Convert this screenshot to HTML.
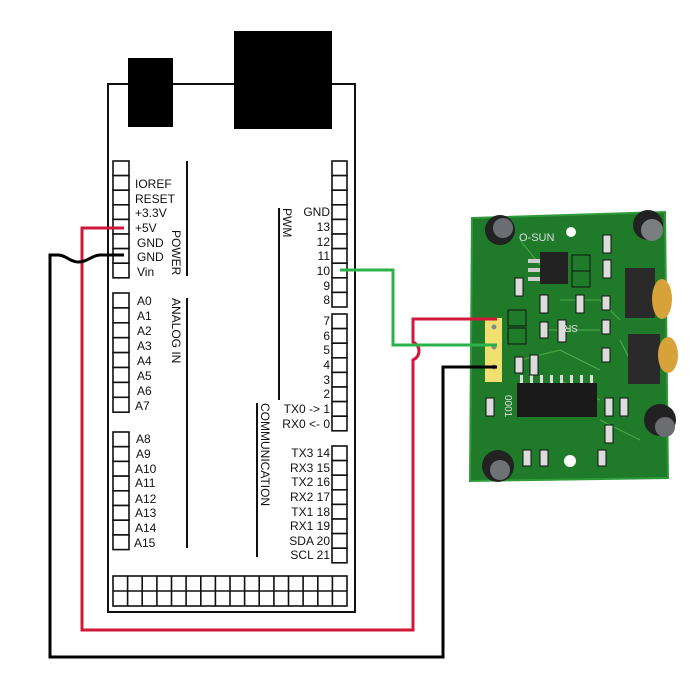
<!DOCTYPE html>
<html><head><meta charset="utf-8"><style>
html,body{margin:0;padding:0;background:#fff;}
svg{display:block;}
text{font-family:"Liberation Sans",sans-serif;font-size:12px;fill:#111;}
</style></head><body>
<svg width="700" height="687" viewBox="0 0 700 687" xmlns="http://www.w3.org/2000/svg">
<rect width="700" height="687" fill="#fff"/>
<!-- board outline -->
<path d="M108,612 V84 H355 V612 Z" fill="none" stroke="#111" stroke-width="2"/>
<rect x="128" y="58" width="45" height="69" fill="#000"/>
<rect x="234" y="31" width="98" height="98" fill="#000"/>
<g fill="#fff" stroke="#111" stroke-width="1.6">
<!-- left power header 8 -->
<rect x="113" y="161" width="16" height="14.6"/><rect x="113" y="175.6" width="16" height="14.6"/><rect x="113" y="190.2" width="16" height="14.6"/><rect x="113" y="204.8" width="16" height="14.6"/><rect x="113" y="219.4" width="16" height="14.6"/><rect x="113" y="234" width="16" height="14.6"/><rect x="113" y="248.6" width="16" height="14.6"/><rect x="113" y="263.2" width="16" height="14.6"/>
<!-- analog A0-A7 -->
<rect x="113" y="293" width="16" height="14.9"/><rect x="113" y="307.9" width="16" height="14.9"/><rect x="113" y="322.8" width="16" height="14.9"/><rect x="113" y="337.7" width="16" height="14.9"/><rect x="113" y="352.6" width="16" height="14.9"/><rect x="113" y="367.5" width="16" height="14.9"/><rect x="113" y="382.4" width="16" height="14.9"/><rect x="113" y="397.3" width="16" height="14.9"/>
<!-- A8-A15 -->
<rect x="113" y="432" width="16" height="14.7"/><rect x="113" y="446.7" width="16" height="14.7"/><rect x="113" y="461.4" width="16" height="14.7"/><rect x="113" y="476.1" width="16" height="14.7"/><rect x="113" y="490.8" width="16" height="14.7"/><rect x="113" y="505.5" width="16" height="14.7"/><rect x="113" y="520.2" width="16" height="14.7"/><rect x="113" y="534.9" width="16" height="14.7"/>
<!-- right top 10 -->
<rect x="332" y="161" width="15" height="14.6"/><rect x="332" y="175.6" width="15" height="14.6"/><rect x="332" y="190.2" width="15" height="14.6"/><rect x="332" y="204.8" width="15" height="14.6"/><rect x="332" y="219.4" width="15" height="14.6"/><rect x="332" y="234" width="15" height="14.6"/><rect x="332" y="248.6" width="15" height="14.6"/><rect x="332" y="263.2" width="15" height="14.6"/><rect x="332" y="277.8" width="15" height="14.6"/><rect x="332" y="292.4" width="15" height="14.6"/>
<!-- right 7..0 -->
<rect x="332" y="314" width="15" height="14.6"/><rect x="332" y="328.6" width="15" height="14.6"/><rect x="332" y="343.2" width="15" height="14.6"/><rect x="332" y="357.8" width="15" height="14.6"/><rect x="332" y="372.4" width="15" height="14.6"/><rect x="332" y="387" width="15" height="14.6"/><rect x="332" y="401.6" width="15" height="14.6"/><rect x="332" y="416.2" width="15" height="14.6"/>
<!-- comm 8 -->
<rect x="332" y="446" width="15" height="14.6"/><rect x="332" y="460.6" width="15" height="14.6"/><rect x="332" y="475.2" width="15" height="14.6"/><rect x="332" y="489.8" width="15" height="14.6"/><rect x="332" y="504.4" width="15" height="14.6"/><rect x="332" y="519" width="15" height="14.6"/><rect x="332" y="533.6" width="15" height="14.6"/><rect x="332" y="548.2" width="15" height="14.6"/>
</g>
<!-- bottom double header -->
<g fill="none" stroke="#111" stroke-width="1.6">
<rect x="113" y="576" width="234" height="30"/>
<line x1="113" y1="591" x2="347" y2="591"/>
<path d="M127.6,576V606M142.2,576V606M156.9,576V606M171.5,576V606M186.1,576V606M200.8,576V606M215.4,576V606M230,576V606M244.6,576V606M259.2,576V606M273.9,576V606M288.5,576V606M303.1,576V606M317.8,576V606M332.4,576V606"/>
</g>
<!-- divider lines -->
<g stroke="#111" stroke-width="2">
<line x1="187" y1="161" x2="187" y2="276"/>
<line x1="187" y1="298" x2="187" y2="548"/>
<line x1="279" y1="208" x2="279" y2="400"/>
<line x1="257" y1="403" x2="257" y2="557"/>
</g>
<!-- left labels -->
<g>
<text x="135" y="188">IOREF</text><text x="135" y="203">RESET</text><text x="135" y="217">+3.3V</text><text x="135" y="232">+5V</text><text x="137" y="247">GND</text><text x="137" y="261">GND</text><text x="137" y="276">Vin</text>
<text x="137" y="305">A0</text><text x="137" y="320">A1</text><text x="137" y="335">A2</text><text x="137" y="350">A3</text><text x="137" y="365">A4</text><text x="137" y="380">A5</text><text x="137" y="395">A6</text><text x="135" y="410">A7</text>
<text x="136" y="443">A8</text><text x="136" y="458">A9</text><text x="135" y="473">A10</text><text x="135" y="487">A11</text><text x="135" y="503">A12</text><text x="135" y="517">A13</text><text x="135" y="532">A14</text><text x="134" y="547">A15</text>
</g>
<g text-anchor="end">
<text x="330" y="216">GND</text><text x="330" y="231">13</text><text x="330" y="246">12</text><text x="330" y="260">11</text><text x="330" y="275">10</text><text x="330" y="290">9</text><text x="330" y="304">8</text>
<text x="330" y="325">7</text><text x="330" y="340">6</text><text x="330" y="354">5</text><text x="330" y="369">4</text><text x="330" y="384">3</text><text x="330" y="398">2</text><text x="330" y="413">TX0 -&gt; 1</text><text x="330" y="428">RX0 &lt;- 0</text>
<text x="330" y="457">TX3 14</text><text x="330" y="472">RX3 15</text><text x="330" y="486">TX2 16</text><text x="330" y="501">RX2 17</text><text x="330" y="516">TX1 18</text><text x="330" y="530">RX1 19</text><text x="330" y="545">SDA 20</text><text x="330" y="559">SCL 21</text>
</g>
<text transform="translate(172,230) rotate(90)">POWER</text>
<text transform="translate(172,298) rotate(90)">ANALOG IN</text>
<text transform="translate(283,208) rotate(90)">PWM</text>
<text transform="translate(261,403) rotate(90)">COMMUNICATION</text>

<!-- PIR board -->
<g>
<path d="M472,218 L665,212 L668,478 L470,481 Z" fill="#1f7a2a"/>
<path d="M472,218 L665,212 L668,478 L470,481 Z" fill="none" stroke="#2f9a3a" stroke-width="2"/>
<g stroke="#4fae4a" stroke-width="1" fill="none">
<path d="M520,240 L540,265 L560,270 M560,300 L600,300 L620,320 M540,330 L600,330 M520,360 L560,350 L600,370 M620,340 L640,380 M560,380 L600,400 M600,420 L640,440"/>
</g>
<!-- capacitors -->
<circle cx="500" cy="230" r="15" fill="#222"/><circle cx="503" cy="228" r="10" fill="#6a6e72"/>
<circle cx="648" cy="225" r="15" fill="#222"/><circle cx="652" cy="230" r="11" fill="#7b7e80"/>
<circle cx="498" cy="466" r="16" fill="#222"/><circle cx="500" cy="470" r="10" fill="#6e7274"/>
<circle cx="660" cy="420" r="16" fill="#222"/><circle cx="665" cy="427" r="10" fill="#6b6e70"/>
<!-- holes -->
<circle cx="571" cy="232" r="5" fill="#fff"/><circle cx="570" cy="461" r="6" fill="#fff"/>
<!-- pots -->
<rect x="625" y="268" width="30" height="50" fill="#2a2a2a"/><ellipse cx="662" cy="299" rx="10" ry="20" fill="#d8a23a"/>
<rect x="628" y="334" width="32" height="50" fill="#2a2a2a"/><ellipse cx="668" cy="355" rx="10" ry="18" fill="#d8a23a"/>
<!-- regulator -->
<rect x="540" y="252" width="28" height="32" fill="#222"/>
<rect x="528" y="259" width="12" height="4" fill="#ccc"/><rect x="528" y="268" width="12" height="4" fill="#ccc"/><rect x="528" y="277" width="12" height="4" fill="#ccc"/>
<!-- IC -->
<rect x="517" y="383" width="80" height="34" fill="#1a1a1a"/>
<g fill="#ddd"><rect x="520" y="375" width="3" height="8"/><rect x="530" y="375" width="3" height="8"/><rect x="540" y="375" width="3" height="8"/><rect x="550" y="375" width="3" height="8"/><rect x="560" y="375" width="3" height="8"/><rect x="570" y="375" width="3" height="8"/><rect x="580" y="375" width="3" height="8"/><rect x="590" y="375" width="3" height="8"/></g>
<!-- resistors -->
<g fill="#dcdcdc" stroke="#111" stroke-width="1">
<rect x="603" y="235" width="8" height="18"/><rect x="603" y="260" width="8" height="18"/><rect x="602" y="296" width="8" height="14"/>
<rect x="515" y="278" width="8" height="18"/><rect x="540" y="295" width="8" height="18"/><rect x="576" y="295" width="8" height="18"/>
<rect x="540" y="322" width="8" height="16"/><rect x="558" y="320" width="8" height="22"/><rect x="602" y="320" width="8" height="14"/>
<rect x="515" y="357" width="8" height="16"/><rect x="530" y="355" width="8" height="20"/><rect x="602" y="348" width="8" height="14"/>
<rect x="486" y="398" width="8" height="18"/><rect x="605" y="398" width="8" height="18"/><rect x="620" y="398" width="8" height="18"/>
<rect x="605" y="425" width="8" height="18"/><rect x="523" y="450" width="8" height="16"/><rect x="540" y="450" width="8" height="16"/><rect x="598" y="450" width="8" height="16"/>
</g>
<!-- sq pads -->
<rect x="508" y="310" width="18" height="16" fill="none" stroke="#111"/><rect x="508" y="328" width="18" height="16" fill="none" stroke="#111"/>
<rect x="572" y="255" width="18" height="16" fill="none" stroke="#111"/><rect x="572" y="271" width="18" height="16" fill="none" stroke="#111"/>
<!-- yellow header -->
<rect x="485" y="318" width="17" height="64" fill="#f0e070"/>
<circle cx="494" cy="327" r="2.5" fill="#888"/><circle cx="494" cy="347" r="2.5" fill="#888"/><circle cx="494" cy="367" r="2.5" fill="#888"/>
<text x="519" y="241" style="font-size:11px;fill:#ddd">O-SUN</text>
<text transform="translate(578,325) rotate(180)" style="font-size:10px;fill:#ddd">SR</text>
<text transform="translate(505,395) rotate(90)" style="font-size:10px;fill:#ddd">0001</text>
</g>

<!-- wires -->
<g fill="none" stroke-width="3">
<path d="M497,319 H413 V342 C421,346 421,356 413,360 V630 H82 V228 H124" stroke="#d0183a"/>
<path d="M340,270 H393 V345 H497" stroke="#2bb24a"/>
<path d="M124,255 H100 C92,255 88,262 78,262 C70,262 66,255 58,255 H50 V657 H443 V367 H497" stroke="#000"/>
</g>
</svg>
</body></html>
